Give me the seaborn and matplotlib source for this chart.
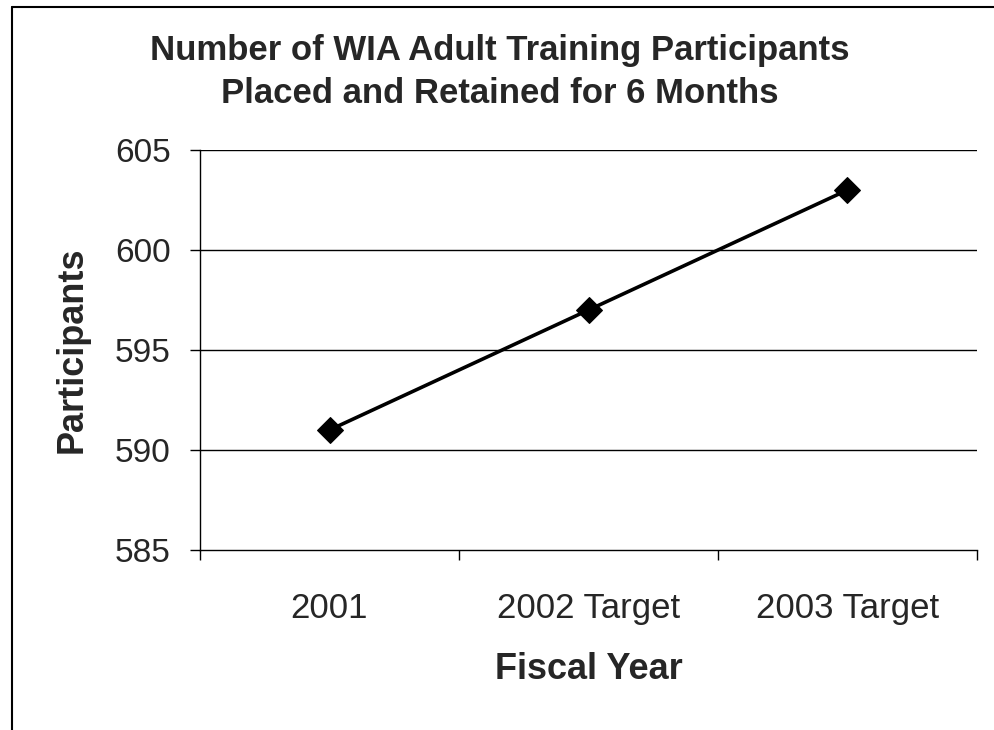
import matplotlib
matplotlib.use("Agg")
import matplotlib.pyplot as plt
from matplotlib.lines import Line2D
import seaborn as sns
import pandas as pd

# Data
fiscal_years = ["2001", "2002 Target", "2003 Target"]
participants = [591, 597, 603]
y_ticks = [585, 590, 595, 600, 605]

sns.set_style("white")
plt.rcParams["font.family"] = ["Liberation Sans", "DejaVu Sans"]

df = pd.DataFrame({"year": fiscal_years, "participants": participants})

fig = plt.figure(figsize=(9.95, 7.30), dpi=100)
ax = fig.add_axes([200 / 995, 1 - 550 / 730, 777 / 995, 400 / 730])

sns.lineplot(data=df, x="year", y="participants", sort=False, ax=ax,
             color="black", linewidth=2.6, marker="D", markersize=13,
             markerfacecolor="black", markeredgecolor="black")

ax.set_xlim(-0.5, len(fiscal_years) - 0.5)
ax.set_ylim(y_ticks[0], y_ticks[-1])

# Gridlines at each y tick
ax.set_yticks(y_ticks)
ax.set_yticklabels([str(v) for v in y_ticks], fontsize=24)
for v in y_ticks[1:]:
    ax.axhline(v, color="black", linewidth=1.0, zorder=0)

# Category labels centered, tick marks at category boundaries
ax.set_xticks([i - 0.5 for i in range(len(fiscal_years) + 1)])
ax.set_xticklabels([])
ax.set_xticks(range(len(fiscal_years)), minor=True)
ax.set_xticklabels(fiscal_years, minor=True, fontsize=25)
ax.tick_params(axis="x", which="major", direction="out", length=7, width=1,
               color="black", bottom=True)
ax.tick_params(axis="x", which="minor", length=0, pad=30)
ax.tick_params(axis="y", direction="out", length=7, width=1, color="black",
               left=True, pad=14)

for side in ["top", "right"]:
    ax.spines[side].set_visible(False)
for side in ["left", "bottom"]:
    ax.spines[side].set_color("black")
    ax.spines[side].set_linewidth(1.0)

ax.set_xlabel("Fiscal Year", fontsize=26, fontweight="bold", labelpad=20)
ax.set_ylabel("Participants", fontsize=26, fontweight="bold", labelpad=18)

fig.text(500 / 995, 1 - 72 / 730,
         "Number of WIA Adult Training Participants\nPlaced and Retained for 6 Months",
         ha="center", va="center", fontsize=25, fontweight="bold",
         linespacing=1.4)

# Frame around the chart area
fig.add_artist(Line2D([12 / 995, 1.0], [1 - 7 / 730, 1 - 7 / 730],
                      transform=fig.transFigure, color="black", linewidth=1.5))
fig.add_artist(Line2D([12 / 995, 12 / 995], [0.0, 1 - 7 / 730],
                      transform=fig.transFigure, color="black", linewidth=1.5))

fig.savefig("out.png", dpi=100)
